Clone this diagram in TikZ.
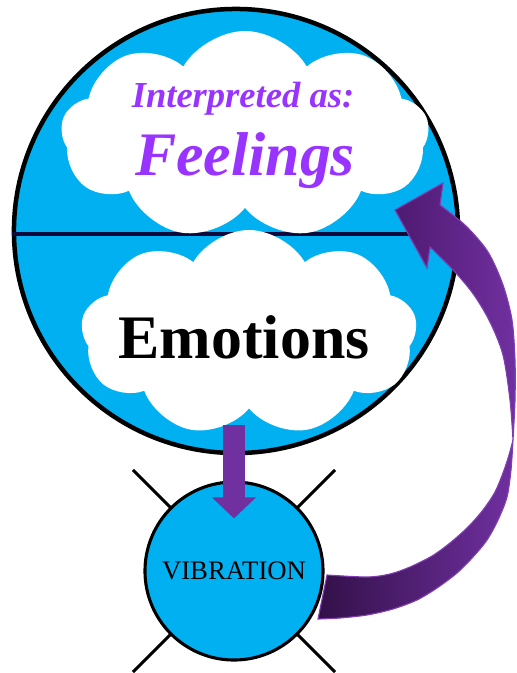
\documentclass[tikz,border=0pt]{standalone}
\usepackage{fontspec}
\setmainfont{Liberation Serif}[BoldItalicFont={Liberation Serif Bold Italic}, BoldFont={Liberation Serif Bold}]
\definecolor{ciel}{RGB}{0,176,240}
\definecolor{lilas}{RGB}{153,51,255}
\definecolor{prune}{RGB}{112,48,160}
\definecolor{prunemoyen}{RGB}{78,26,112}
\definecolor{prunefonce}{RGB}{50,16,72}
\definecolor{pruneclair}{RGB}{128,62,178}
\definecolor{marine}{RGB}{10,10,60}
\usepackage{tikz}
\usetikzlibrary{arrows.meta,positioning,calc,shapes.symbols}

\begin{document}
\begin{tikzpicture}[x=0.025cm, y=-0.025cm,
		nuage/.style={cloud, cloud puffs=9, cloud puff arc=120, cloud ignores aspect, fill=white, inner sep=0pt},
		rayon/.style={line width=2.2pt, black}]
				\useasboundingbox (0,0) rectangle (516,673);
				
				% Grand cercle
				\node[circle, draw=black, line width=3.2pt, fill=ciel, minimum size=11.1cm] (esprit) at (236,231) {};
				\draw[marine, line width=2.8pt] ([yshift=-2pt]esprit.west) -- ([yshift=-2pt]esprit.east);
				
				% Nuages
				\node[nuage, minimum width=9.2cm, minimum height=5.2cm] (haut) at (245,135) {};
				\node[nuage, minimum width=8.4cm, minimum height=5.15cm] (bas) at (249,333) {};
				\node[anchor=base, lilas, font=\fontsize{26}{30}\selectfont\bfseries\itshape] (interp) at (243,107) {Interpreted as:};
				\node[anchor=base, lilas, font=\fontsize{44}{50}\selectfont\bfseries\itshape] (feel) at (245,175) {Feelings};
				\node[anchor=base, font=\fontsize{44}{50}\selectfont\bfseries] (emo) at (244,358) {Emotions};
				
				% Petit cercle
				\coordinate (vc) at (234,571);
				\foreach \a in {45,135,225,315}
					\draw[rayon] (vc) -- ++(\a:143);
				\node[circle, draw=black, line width=2.2pt, fill=ciel, minimum size=4.45cm, font=\fontsize{19}{22}\selectfont] (vib) at (vc) {VIBRATION};
				
				% Fleche vers le bas
				\draw[prune, line width=15pt, -{Triangle[width=30.5pt, length=15pt]}] ($(vib.north |- esprit.south)+(0,-30)$) -- ($(vib.north)+(0,38)$);
				
				% Fleche courbe
				\shadedraw[left color=prunemoyen, right color=prune, draw=pruneclair, line width=0.8pt]
					(395,210) -- (443,183) -- (440,205)
					-- plot[smooth] coordinates {(440,205) (466,226) (488,252) (503,285) (512,320) (515,360) (515,400) (513,440)}
					-- plot[smooth] coordinates {(513,440) (510,400) (503,355) (490,322) (474,295) (455,272) (430,247)}
					-- (427,268) -- cycle;
				\shadedraw[left color=prunefonce, right color=prune, draw=pruneclair, line width=0.8pt]
					(318,619) -- (327,575)
					-- plot[smooth] coordinates {(327,575) (367,577) (390,574) (410,567) (432,556) (450,543) (468,527) (483,510) (495,492) (503,473) (509,455) (513,440)}
					-- plot[smooth] coordinates {(513,440) (511,470) (507,497) (498,520) (487,540) (473,557) (457,573) (437,588) (417,600) (393,609) (367,615) (340,618) (318,619)}
					-- cycle;
			\end{tikzpicture}
\end{document}
